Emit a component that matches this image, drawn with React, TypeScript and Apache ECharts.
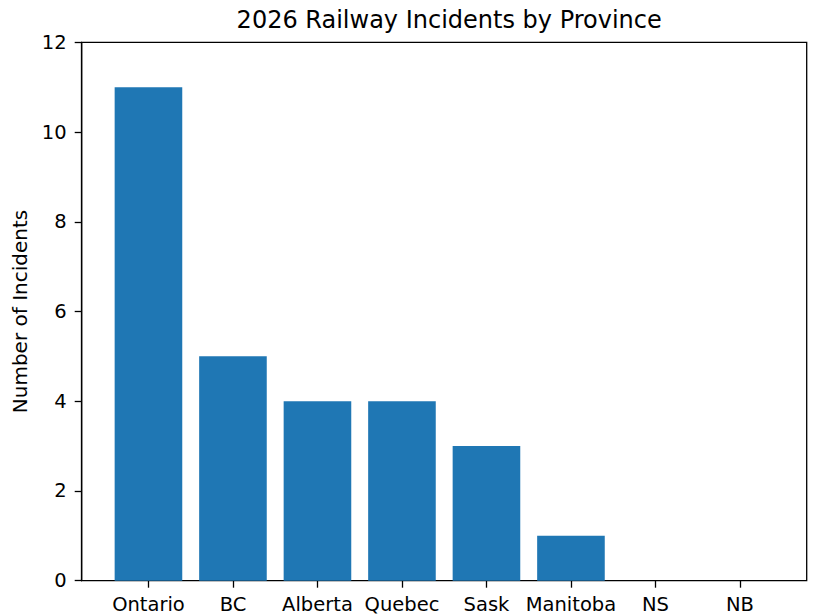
import React, { useEffect, useRef } from "react";
import * as echarts from "echarts";

const provinces = ["Ontario", "BC", "Alberta", "Quebec", "Sask", "Manitoba", "NS", "NB"];
const incidents = [11, 5, 4, 4, 3, 1, 0, 0];
const yTicks = { min: 0, max: 12, interval: 2 };
const titleText = "2026 Railway Incidents by Province";
const yAxisName = "Number of Incidents";

const FONT = "DejaVu Sans";
const BOX = { left: 81.7, top: 42.3, width: 725, height: 538.4 };
const UNIT = 84.5; // px per category
const N = provinces.length;
const firstCenter = BOX.left + 0.79 * UNIT;

export default function App() {
  const ref = useRef<HTMLDivElement>(null);
  useEffect(() => {
    if (!ref.current) return;
    const chart = echarts.init(ref.current, undefined, { renderer: "svg" });
    const innerLeft = firstCenter - UNIT / 2;
    chart.setOption({
      animation: false,
      backgroundColor: "#ffffff",
      title: {
        text: titleText,
        left: BOX.left + BOX.width / 2,
        textAlign: "center",
        top: 3,
        textStyle: { fontFamily: FONT, fontSize: 24, fontWeight: "normal", color: "#000" },
      },
      grid: [
        {
          left: BOX.left,
          top: BOX.top,
          width: BOX.width,
          height: BOX.height,
          show: true,
          borderColor: "#000",
          borderWidth: 1.3,
          backgroundColor: "transparent",
        },
        {
          left: innerLeft,
          top: BOX.top,
          width: UNIT * N,
          height: BOX.height,
        },
      ],
      xAxis: [
        { gridIndex: 0, type: "value", min: 0, max: 1, show: false },
        {
          gridIndex: 1,
          type: "category",
          data: provinces,
          axisLine: { show: false },
          axisTick: { show: true, interval: 0, alignWithLabel: true, length: 7, lineStyle: { color: "#000", width: 1.3 } },
          axisLabel: { interval: 0, hideOverlap: false, fontFamily: FONT, fontSize: 19.5, color: "#000", margin: 14 },
        },
      ],
      yAxis: [
        {
          gridIndex: 0,
          type: "value",
          min: yTicks.min,
          max: yTicks.max,
          interval: yTicks.interval,
          axisLine: { show: true, lineStyle: { color: "#000", width: 1.3 } },
          axisTick: { show: true, length: 7, lineStyle: { color: "#000", width: 1.3 } },
          axisLabel: { fontFamily: FONT, fontSize: 19.5, color: "#000", margin: 15 },
          splitLine: { show: false },
          name: yAxisName,
          nameLocation: "middle",
          nameRotate: 90,
          nameGap: 52,
          nameTextStyle: { fontFamily: FONT, fontSize: 20, color: "#000" },
        },
        {
          gridIndex: 1,
          type: "value",
          min: yTicks.min,
          max: yTicks.max,
          interval: yTicks.interval,
          show: false,
        },
      ],
      series: [
        {
          type: "bar",
          xAxisIndex: 1,
          yAxisIndex: 1,
          data: incidents,
          barWidth: "80%",
          itemStyle: { color: "#1f77b4" },
        },
      ],
    });
    return () => chart.dispose();
  }, []);
  return (
    <div
      ref={ref}
      style={{ position: "absolute", left: 0, top: 0, width: 816, height: 616 }}
    />
  );
}
